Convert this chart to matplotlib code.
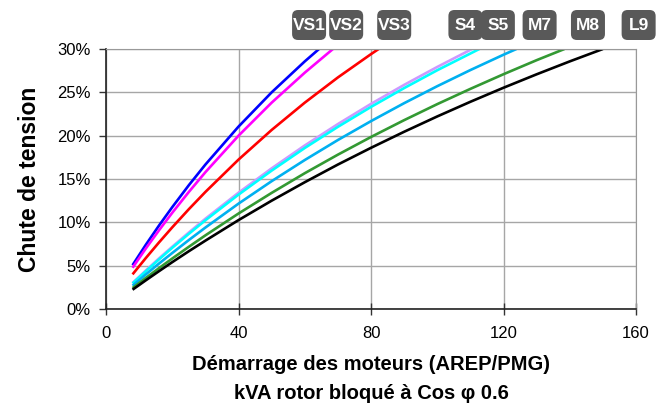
import matplotlib
matplotlib.use("Agg")
import matplotlib.pyplot as plt
from matplotlib.patches import FancyBboxPatch
from matplotlib.transforms import IdentityTransform
from matplotlib.ticker import PercentFormatter

plt.rcParams['font.family'] = ['Liberation Sans Narrow', 'Liberation Sans', 'DejaVu Sans']

# kVA rotor bloqué (x) et chute de tension en % (y) pour chaque alternateur
x_vs1 = [8, 12, 16, 20, 25, 30, 40, 50, 60, 64.3]
y_vs1 = [5.06, 7.41, 9.64, 11.76, 14.29, 16.67, 21.05, 25.0, 28.57, 30.0]

x_vs2 = [8, 12, 16, 20, 25, 30, 40, 50, 60, 68.5]
y_vs2 = [4.76, 6.98, 9.09, 11.11, 13.51, 15.79, 20.0, 23.81, 27.27, 30.0]

x_vs3 = [8, 12, 16, 20, 25, 30, 40, 50, 60, 70, 80, 82.3]
y_vs3 = [4.0, 5.88, 7.69, 9.43, 11.52, 13.51, 17.24, 20.66, 23.81, 26.72, 29.41, 30.0]

x_s4 = [8, 12, 16, 20, 25, 30, 40, 50, 60, 70, 80, 90, 100, 110.5]
y_s4 = [3.01, 4.44, 5.84, 7.19, 8.83, 10.42, 13.42, 16.23, 18.87, 21.34, 23.67, 25.86, 27.93, 30.0]

x_s5 = [8, 12, 16, 20, 25, 30, 40, 50, 60, 70, 80, 90, 100, 112.7]
y_s5 = [2.95, 4.36, 5.73, 7.07, 8.68, 10.24, 13.20, 15.97, 18.58, 21.02, 23.32, 25.49, 27.55, 30.0]

x_m7 = [8, 12, 16, 20, 25, 30, 40, 50, 60, 70, 80, 90, 100, 110, 120, 123.9]
y_m7 = [2.69, 3.99, 5.25, 6.47, 7.96, 9.40, 12.16, 14.75, 17.19, 19.50, 21.68, 23.75, 25.71, 27.57, 29.34, 30.0]

x_m8 = [8, 12, 16, 20, 25, 30, 40, 50, 60, 70, 80, 90, 100, 110, 120, 130, 138.4]
y_m8 = [2.42, 3.58, 4.72, 5.83, 7.18, 8.50, 11.02, 13.40, 15.67, 17.81, 19.85, 21.79, 23.64, 25.40, 27.09, 28.71, 30.0]

x_l9 = [8, 12, 16, 20, 25, 30, 40, 50, 60, 70, 80, 90, 100, 110, 120, 130, 140, 150]
y_l9 = [2.23, 3.31, 4.37, 5.41, 6.67, 7.89, 10.26, 12.50, 14.63, 16.67, 18.60, 20.45, 22.22, 23.91, 25.53, 27.08, 28.57, 30.0]

names = ['VS1', 'VS2', 'VS3', 'S4', 'S5', 'M7', 'M8', 'L9']
xs = [x_vs1, x_vs2, x_vs3, x_s4, x_s5, x_m7, x_m8, x_l9]
ys = [y_vs1, y_vs2, y_vs3, y_s4, y_s5, y_m7, y_m8, y_l9]
colors = ['#0000FF', '#FF00FF', '#FF0000', '#CC99FF', '#00FFFF', '#00B0F0', '#339933', '#000000']
# position des étiquettes au-dessus du graphique (en kVA)
label_x = [61.3, 72.5, 87, 108.5, 118.3, 130.9, 145.5, 160.8]

fig = plt.figure(figsize=(6.67, 4.08), dpi=100)
ax = fig.add_axes([0.159, 0.2426, 0.7945, 0.6373])

for x, y, c in zip(xs, ys, colors):
    ax.plot(x, y, color=c, lw=1.9, solid_capstyle='butt')

ax.set_xlim(0, 160)
ax.set_ylim(0, 30)
ax.set_xticks([0, 40, 80, 120, 160])
ax.set_yticks(range(0, 31, 5))
ax.yaxis.set_major_formatter(PercentFormatter(decimals=0))
ax.grid(True, color='#a6a6a6', lw=1)
ax.set_axisbelow(True)
ax.tick_params(axis='y', direction='out', length=5, width=1, color='#333333', labelsize=12, pad=6)
ax.tick_params(axis='x', direction='inout', length=8, width=1, color='#333333', labelsize=12, pad=8)

for side in ['top', 'right']:
    ax.spines[side].set_color('#999999')
for side in ['left', 'bottom']:
    ax.spines[side].set_color('#222222')
    ax.spines[side].set_linewidth(1.2)

ax.set_ylabel('Chute de tension', fontsize=16.5, fontweight='bold', labelpad=12)
ax.set_xlabel('Démarrage des moteurs (AREP/PMG)\nkVA rotor bloqué à Cos φ 0.6',
              fontsize=14.5, fontweight='bold', labelpad=10, linespacing=1.7)

# étiquettes des modèles : rectangles gris arrondis
fig.canvas.draw()
H = fig.bbox.height
for name, lx in zip(names, label_x):
    px = ax.transData.transform((lx, 0))[0]
    py = H - 25
    box = FancyBboxPatch((px - 17, py - 15), 34, 30,
                         boxstyle='round,pad=0,rounding_size=6',
                         fc='#595959', ec='none', transform=IdentityTransform())
    fig.patches.append(box)
    fig.text(px / fig.bbox.width, py / H, name, ha='center', va='center',
             color='white', fontsize=12.5, fontweight='bold')

fig.savefig('out.png', dpi=100)
